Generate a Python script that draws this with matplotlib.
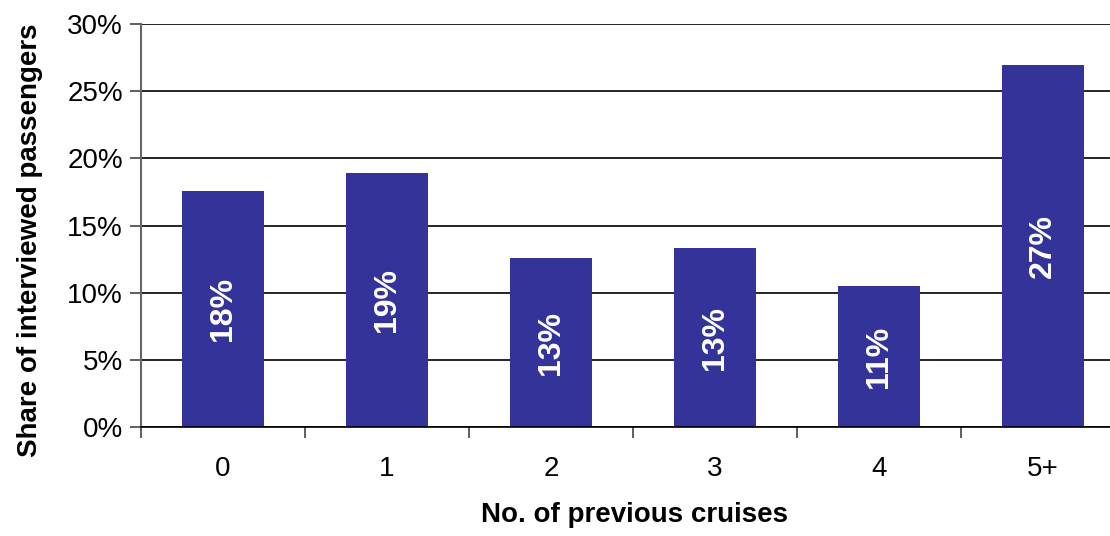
import matplotlib.pyplot as plt
import numpy as np

plt.rcParams['font.family'] = ['Liberation Sans', 'DejaVu Sans']

# No. of previous cruises vs share of passengers
categories = ['0', '1', '2', '3', '4', '5+']
shares = [17.6, 18.9, 12.55, 13.3, 10.47, 26.95]
labels = ['18%', '19%', '13%', '13%', '11%', '27%']

fig = plt.figure(figsize=(11.1, 5.36), dpi=100)
# axes runs a little past the right edge, as in the original
ax = fig.add_axes([141 / 1110, (536 - 427) / 536, 984 / 1110, 403 / 536])

x = np.arange(len(categories))
bars = ax.bar(x, shares, width=0.495, color='#333399', zorder=2)

for b, lab in zip(bars, labels):
    ax.text(b.get_x() + b.get_width() / 2, b.get_height() / 2, lab,
            rotation=90, ha='center', va='center', color='white',
            fontsize=23, fontweight='bold', zorder=3)

ax.set_xlim(-0.5, 5.5)
ax.set_ylim(0, 30)
ax.set_yticks(np.arange(0, 31, 5))
ax.set_yticklabels([f'{v}%' for v in range(0, 31, 5)], fontsize=20)
ax.yaxis.grid(True, color='black', linewidth=1.2, zorder=0)

ax.set_xticks(x)
ax.set_xticklabels(categories, fontsize=20)
ax.set_xticks(np.arange(-0.5, 6, 1), minor=True)
ax.tick_params(axis='x', which='major', length=0, pad=21)
ax.tick_params(axis='x', which='minor', length=8, width=1.2, color='#444444')
ax.tick_params(axis='y', length=8, width=1.2, color='#444444', pad=5)

for s in ['top', 'right']:
    ax.spines[s].set_visible(False)
ax.spines['left'].set_color('#666666')
ax.spines['left'].set_linewidth(1.5)
ax.spines['bottom'].set_color('black')
ax.spines['bottom'].set_linewidth(1.2)

ax.set_xlabel('No. of previous cruises', fontsize=20, fontweight='bold', va='center')
ax.xaxis.set_label_coords(0.502, -0.218)
ax.set_ylabel('Share of interviewed passengers', fontsize=20, fontweight='bold', va='center')
ax.yaxis.set_label_coords(-0.1128, 0.464)

fig.savefig('out.png', dpi=100)
